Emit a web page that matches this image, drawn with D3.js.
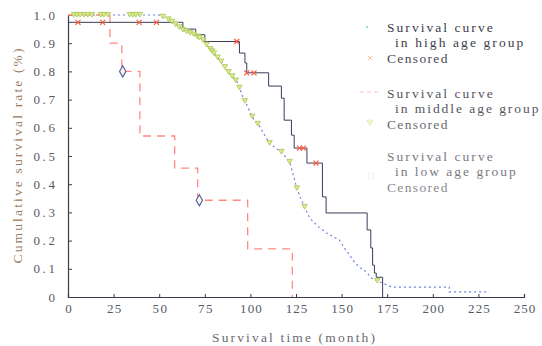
<!DOCTYPE html>
<html><head><meta charset="utf-8">
<script src="https://cdn.jsdelivr.net/npm/d3@7"></script>
<style>body{margin:0;background:#fff}svg{display:block}</style>
</head><body>
<svg id="chart" width="542" height="346"></svg>
<script>
// ---- data ----
const xTicks = [0, 25, 50, 75, 100, 125, 150, 175, 200, 225, 250];
const yTicks = [0, 0.1, 0.2, 0.3, 0.4, 0.5, 0.6, 0.7, 0.8, 0.9, 1.0];

// dark solid curve (step)
const highTimes = [0, 63, 70, 75, 94, 97, 98, 110, 117, 118.5, 122.5, 124, 131, 139.5, 141.5, 164, 166, 167, 168, 169, 172.5];
const highSurv  = [0.974, 0.95, 0.93, 0.906, 0.865, 0.83, 0.795, 0.748, 0.705, 0.627, 0.574, 0.528, 0.475, 0.355, 0.298, 0.238, 0.174, 0.113, 0.085, 0.07, 0];
const highCensTimes = [5.5, 19, 39, 48.5, 92.5, 98, 102, 127, 129, 136];

// blue dotted curve
const midTimes = [0, 50, 55.8, 62.9, 69.5, 73.9, 79.3, 84.2, 87, 90.3, 93, 95.8, 98.5, 101.3, 105, 107.8, 110.5, 113.8, 117.1, 121.5, 123.7, 125.4, 127.5, 129.7, 132.5, 136.8, 141.7, 148.8, 151.5, 154.3, 157, 159.7, 163.6, 166.3, 169.6, 177.8, 209, 209, 231];
const midSurv  = [1, 1, 0.982, 0.947, 0.929, 0.911, 0.869, 0.833, 0.805, 0.78, 0.76, 0.71, 0.675, 0.635, 0.606, 0.574, 0.546, 0.528, 0.514, 0.479, 0.429, 0.387, 0.351, 0.319, 0.28, 0.252, 0.227, 0.202, 0.174, 0.149, 0.124, 0.106, 0.089, 0.067, 0.057, 0.035, 0.035, 0.018, 0.018];
const midCensTimes = [3.3, 5, 6.6, 8.8, 10.9, 13.1, 18, 19.7, 21.9, 33.9, 35.6, 37.2, 39.4,
  52, 55, 57, 59, 61, 63, 65, 67, 69, 71, 72, 74, 76, 78, 79, 80, 82, 84, 86, 88, 90, 92, 94, 97, 101, 104,
  110.5, 117, 121.5, 125.5, 129.7, 169.6];

// red dashed curve (step)
const lowTimes = [0, 23, 29.5, 39.4, 58.5, 71.1, 98.5, 123];
const lowSurv  = [1, 0.9, 0.8, 0.571, 0.457, 0.343, 0.171, 0];
const lowCensTimes = [30, 72];

const legendLabels = [
  ["Survival curve", "in high age group"],
  ["Censored"],
  ["Survival curve", "in middle age group"],
  ["Censored"],
  ["Survival curve", "in low age group"],
  ["Censored"]
];
const xTitle = "Survival time (month)";
const yTitle = "Cumulative survival rate (%)";

// ---- drawing ----
const svg = d3.select("#chart");
const x = d3.scaleLinear().domain([0, 250]).range([68, 524]);
const y = d3.scaleLinear().domain([0, 1]).range([297, 15]);
const serif = "'Liberation Serif', 'DejaVu Serif', serif";
const CW = 7.55; // per-character advance of the monospaced-looking text

function stepVal(times, surv, t) {
  let v = surv[0];
  for (let i = 0; i < times.length; i++) if (times[i] <= t) v = surv[i];
  return v;
}
function interpVal(times, surv, t) {
  for (let i = 1; i < times.length; i++) {
    if (t <= times[i]) {
      const t0 = times[i-1], t1 = times[i];
      if (t1 === t0) return surv[i];
      return surv[i-1] + (surv[i] - surv[i-1]) * (t - t0) / (t1 - t0);
    }
  }
  return surv[surv.length - 1];
}

// axes
const yAxis = d3.axisLeft(y).tickValues(yTicks).tickSize(-4).tickPadding(13)
  .tickFormat(d => d === 0 ? "0" : d3.format(".1f")(d));
const gy = svg.append("g").attr("transform", "translate(68,0)").call(yAxis);
const xAxis = d3.axisBottom(x).tickValues(xTicks).tickSize(-3).tickPadding(7).tickFormat(d3.format("d"));
const gx = svg.append("g").attr("transform", "translate(0,297)").call(xAxis);
[gx, gy].forEach(g => {
  g.select(".domain").attr("stroke", "#3a3a4a").attr("stroke-width", 1.2);
  g.selectAll(".tick line").attr("stroke", "#3a3a4a");
  g.selectAll(".tick text").attr("fill", "#555a66").style("font-family", serif).style("font-size", "13px")
    .each(function() {
      const n = this.textContent.length;
      if (n > 1) d3.select(this).attr("textLength", n * 7.2).attr("lengthAdjust", "spacing");
    });
});

// titles
svg.append("text").attr("x", 212).attr("y", 342)
  .style("font-family", serif).style("font-size", "13.5px").attr("fill", "#6a6a72")
  .attr("textLength", 163).attr("lengthAdjust", "spacing").text(xTitle);
svg.append("text").attr("transform", "translate(22,156) rotate(-90)").attr("text-anchor", "middle")
  .style("font-family", serif).style("font-size", "13.5px").attr("fill", "#9a7a60")
  .attr("textLength", 215).attr("lengthAdjust", "spacing").text(yTitle);

// curves
const stepLine = d3.line().x(d => x(d[0])).y(d => y(d[1])).curve(d3.curveStepAfter);
const linLine = d3.line().x(d => x(d[0])).y(d => y(d[1]));

svg.append("path").datum(midTimes.map((t, i) => [t, midSurv[i]]))
  .attr("d", linLine).attr("fill", "none").attr("stroke", "#6f7fe0")
  .attr("stroke-width", 1.2).attr("stroke-dasharray", "2,3");

svg.append("path").datum(lowTimes.map((t, i) => [t, lowSurv[i]]))
  .attr("d", stepLine).attr("fill", "none").attr("stroke", "#ff8a80")
  .attr("stroke-width", 1.3).attr("stroke-dasharray", "8,6");

svg.append("path").datum(highTimes.map((t, i) => [t, highSurv[i]]))
  .attr("d", stepLine).attr("fill", "none").attr("stroke", "#3c3c5c")
  .attr("stroke-width", 1);

// censored marks
const tri = d3.symbol().type(d3.symbolTriangle).size(13);
svg.append("g").selectAll("path").data(midCensTimes).join("path")
  .attr("d", tri)
  .attr("transform", t => `translate(${x(t)},${y(interpVal(midTimes, midSurv, t)) - 1}) rotate(180)`)
  .attr("fill", "#dfeb8a").attr("stroke", "#a8c85a").attr("stroke-width", 0.8);

svg.append("g").selectAll("path").data(highCensTimes).join("path")
  .attr("d", d3.symbol().type(d3.symbolX).size(18))
  .attr("transform", t => `translate(${x(t)},${y(stepVal(highTimes, highSurv, t))})`)
  .attr("fill", "none").attr("stroke", "#ff5a3c").attr("stroke-width", 1.2);

svg.append("g").selectAll("path").data(lowCensTimes).join("path")
  .attr("d", d3.symbol().type(d3.symbolDiamond).size(36))
  .attr("transform", t => `translate(${x(t)},${y(stepVal(lowTimes, lowSurv, t))})`)
  .attr("fill", "#fff3e0").attr("stroke", "#5666aa").attr("stroke-width", 1.2);

// legend
const legRows = [27, 58, 93, 124, 156, 187];
const legColors = ["#3c3c4c", "#4a4a55", "#555560", "#6a6a70", "#7a7a80", "#8a8a90"];
legendLabels.forEach((lines, i) => {
  lines.forEach((s, j) => {
    svg.append("text").attr("x", j === 0 ? 387 : 395).attr("y", legRows[i] + 5 + j * 15)
      .style("font-family", serif).style("font-size", "13.5px").attr("fill", legColors[i])
      .attr("textLength", s.length * CW).attr("lengthAdjust", "spacing").text(s);
  });
});
// faint legend keys
svg.append("circle").attr("cx", 367).attr("cy", 27).attr("r", 1.2).attr("fill", "#9ad8e8");
svg.append("path").attr("d", d3.symbol().type(d3.symbolX).size(16)).attr("transform", "translate(370,58)")
  .attr("stroke", "#ffc0a0").attr("fill", "none");
svg.append("line").attr("x1", 360).attr("x2", 378).attr("y1", 92).attr("y2", 92)
  .attr("stroke", "#ffc0c8").attr("stroke-dasharray", "4,3");
svg.append("path").attr("d", d3.symbol().type(d3.symbolTriangle).size(18)).attr("transform", "translate(370,122) rotate(180)")
  .attr("fill", "#f3f6d0").attr("stroke", "#e6edb8");
svg.append("circle").attr("cx", 371).attr("cy", 176).attr("r", 3).attr("fill", "none").attr("stroke", "#eef0f4");
</script>
</body></html>
